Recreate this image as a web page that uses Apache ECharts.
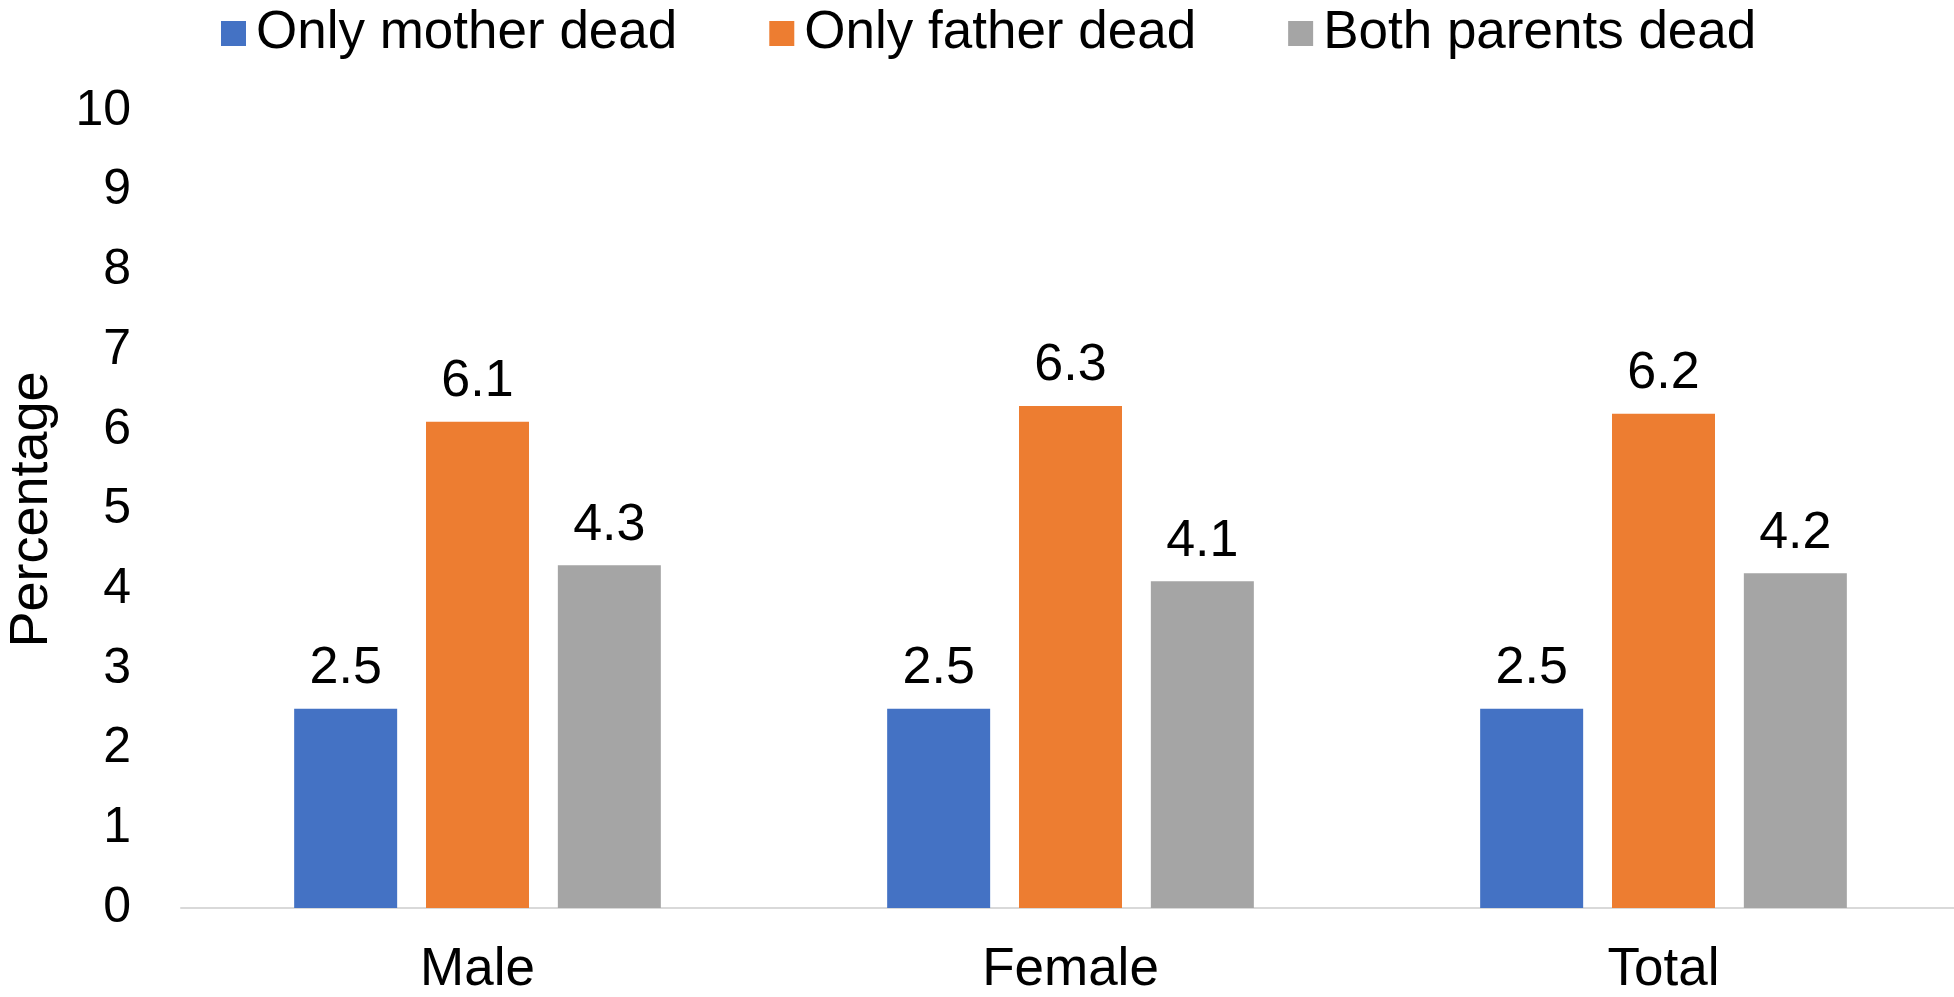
<!DOCTYPE html>
<html>
<head>
<meta charset="utf-8">
<script src="https://cdn.jsdelivr.net/npm/echarts@6/dist/echarts.min.js"></script>
<style>
  html, body { margin: 0; padding: 0; background: #fff; }
  #chart { width: 1954px; height: 997px; }
</style>
</head>
<body>
<div id="chart"></div>
<script>
// chart data
const categories = ["Male", "Female", "Total"];
const seriesNames = ["Only mother dead", "Only father dead", "Both parents dead"];
const motherDead = [2.5, 2.5, 2.5];
const fatherDead = [6.1, 6.3, 6.2];
const bothDead = [4.3, 4.1, 4.2];
const colors = ["#4472c4", "#ed7d31", "#a5a5a5"];

const font = "Liberation Sans, Arial, sans-serif";

const chart = echarts.init(document.getElementById("chart"));

const makeSeries = (name, data, color) => ({
  name: name,
  type: "bar",
  data: data,
  barWidth: 103,
  barGap: "28%",
  itemStyle: { color: color },
  label: {
    show: true,
    position: "top",
    distance: 14,
    color: "#000",
    fontFamily: font,
    fontSize: 52,
    formatter: (p) => p.value.toFixed(1),
  },
});

chart.setOption({
  animation: false,
  textStyle: { fontFamily: font },
  legend: {
    top: 2,
    left: 216,
    itemWidth: 25,
    itemHeight: 25,
    itemGap: 92,
    icon: "rect",
    textStyle: { fontSize: 53, color: "#000", fontFamily: font, padding: [0, 0, 0, 5] },
    data: seriesNames,
  },
  grid: { left: 181, right: -6, top: 111, bottom: 89, outerBoundsMode: "none" },
  xAxis: {
    type: "category",
    data: categories,
    axisLine: { lineStyle: { color: "#d9d9d9", width: 2 } },
    axisTick: { show: false },
    axisLabel: { color: "#000", fontSize: 53, fontFamily: font, margin: 36 },
  },
  yAxis: {
    type: "value",
    min: 0,
    max: 10,
    interval: 1,
    name: "Percentage",
    nameLocation: "middle",
    nameGap: 122,
    nameTextStyle: { color: "#000", fontSize: 54, fontFamily: font },
    axisLine: { show: false },
    axisTick: { show: false },
    splitLine: { show: false },
    axisLabel: { color: "#000", fontSize: 50, fontFamily: font, margin: 50 },
  },
  series: [
    makeSeries(seriesNames[0], motherDead, colors[0]),
    makeSeries(seriesNames[1], fatherDead, colors[1]),
    makeSeries(seriesNames[2], bothDead, colors[2]),
  ],
});
</script>
</body>
</html>
